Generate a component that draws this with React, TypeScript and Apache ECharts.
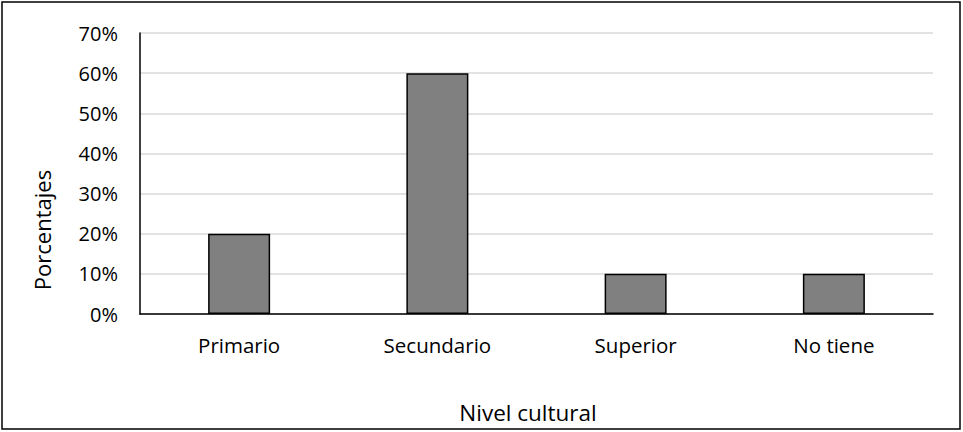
import React, { useEffect, useRef } from "react";
import * as echarts from "echarts";

const categories = ["Primario", "Secundario", "Superior", "No tiene"];
const values = [20, 60, 10, 10];
const yTicks = [0, 10, 20, 30, 40, 50, 60, 70];
const yTitle = "Porcentajes";
const xTitle = "Nivel cultural";

const FONT = "'Open Sans', 'Noto Sans', sans-serif";

export default function App() {
  const ref = useRef<HTMLDivElement>(null);
  useEffect(() => {
    document.body.style.margin = "0";
    const chart = echarts.init(ref.current!, null, { renderer: "svg" });
    chart.setOption({
      animation: false,
      backgroundColor: "#ffffff",
      graphic: [
        {
          type: "rect",
          shape: { x: 2, y: 2, width: 958, height: 427 },
          style: { fill: "none", stroke: "#000000", lineWidth: 1.5 },
          silent: true,
        },
        {
          type: "text",
          x: 42,
          y: 230,
          rotation: Math.PI / 2,
          style: {
            text: yTitle,
            fontFamily: FONT,
            fontSize: 22,
            fill: "#000",
            align: "center",
            verticalAlign: "middle",
          },
          silent: true,
        },
        {
          type: "text",
          x: 528,
          y: 412,
          style: {
            text: xTitle,
            fontFamily: FONT,
            fontSize: 22.5,
            fill: "#000",
            align: "center",
            verticalAlign: "middle",
          },
          silent: true,
        },
      ],
      grid: { left: 140, right: 30, top: 33, bottom: 118 },
      xAxis: {
        type: "category",
        data: categories,
        axisLine: { lineStyle: { color: "#000", width: 1.5 } },
        axisTick: { show: false },
        axisLabel: { fontFamily: FONT, fontSize: 20.5, color: "#000", margin: 20 },
      },
      yAxis: {
        type: "value",
        min: 0,
        max: 70,
        interval: 10,
        axisLine: { show: true, lineStyle: { color: "#000", width: 1.5 } },
        axisTick: { show: false },
        axisLabel: {
          fontFamily: FONT,
          fontSize: 20,
          color: "#000",
          margin: 22,
          formatter: (v: number) => (yTicks.includes(v) ? v + "%" : ""),
        },
        splitLine: { lineStyle: { color: "#d9d9d9", width: 1.5 } },
      },
      series: [
        {
          type: "bar",
          data: values,
          barWidth: 62,
          itemStyle: { color: "#808080", borderColor: "#000", borderWidth: 1.5 },
        },
      ],
    });
    return () => chart.dispose();
  }, []);
  return <div ref={ref} style={{ width: 963, height: 432 }} />;
}
